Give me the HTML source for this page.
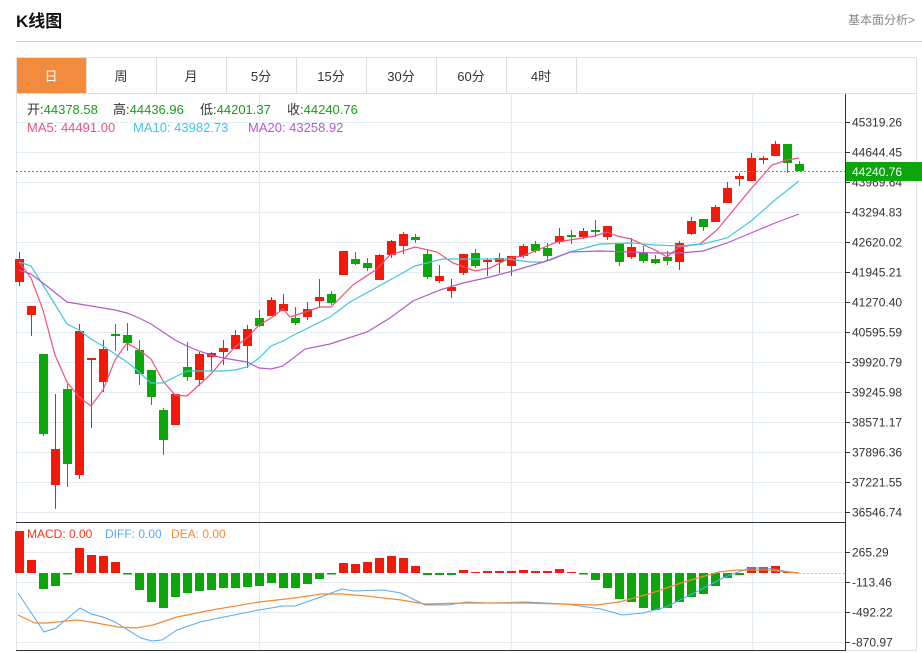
<!DOCTYPE html>
<html><head><meta charset="utf-8"><style>
body{margin:0;background:#fff;width:922px;height:653px;overflow:hidden;font-family:"Liberation Sans","Noto Sans CJK SC",sans-serif;}
svg{position:absolute;left:0;top:0}
</style></head><body>
<svg id="s" width="922" height="653" xmlns="http://www.w3.org/2000/svg" font-family="Liberation Sans, Noto Sans CJK SC, sans-serif">
<text x="16" y="27" font-size="17" font-weight="bold" fill="#111">K线图</text>
<text x="848" y="24" font-size="12" fill="#888">基本面分析&gt;</text>
<line x1="16" y1="41.5" x2="922" y2="41.5" stroke="#ccc"/>
<g id="tabs"></g>
<g id="g"></g>
</svg>
<script>
var NS="http://www.w3.org/2000/svg",G=document.getElementById('g');
function el(t,a,p,txt){var e=document.createElementNS(NS,t);for(var k in a)e.setAttribute(k,a[k]);if(txt!=null)e.textContent=txt;(p||G).appendChild(e);return e;}
var T=document.getElementById('tabs');
var tabs=["日","周","月","5分","15分","30分","60分","4时"];
el('rect',{x:16.5,y:57.5,width:900,height:593,fill:'none',stroke:'#dde3ea'},T);
tabs.forEach(function(t,i){var x=16+i*70;
 if(i==0)el('rect',{x:x+1,y:58,width:69,height:35,fill:'#f28b3d'},T);
 el('line',{x1:x+70.5,y1:58,x2:x+70.5,y2:93,stroke:'#ddd'},T);
 el('text',{x:x+35,y:81,'font-size':13,'text-anchor':'middle',fill:i==0?'#fff':'#333'},T,t);});
el('line',{x1:16,y1:93.5,x2:917,y2:93.5,stroke:'#ddd'},T);
var labs=["45319.26","44644.45","43969.64","43294.83","42620.02","41945.21","41270.40","40595.59","39920.79","39245.98","38571.17","37896.36","37221.55","36546.74"];
labs.forEach(function(l,i){var y=122+30*i+.5;el('line',{x1:17,y1:y,x2:845,y2:y,stroke:'#e3ecf3'});el('line',{x1:845,y1:y,x2:850,y2:y,stroke:'#333'});el('text',{x:852,y:y+4,'font-size':12,fill:'#333'},null,l);});
["265.29","-113.46","-492.22","-870.97"].forEach(function(l,i){var y=552+30*i+.5;el('line',{x1:17,y1:y,x2:845,y2:y,stroke:'#e3ecf3'});el('line',{x1:845,y1:y,x2:850,y2:y,stroke:'#333'});el('text',{x:852,y:y+4,'font-size':12,fill:'#333'},null,l);});
[259.5,511.5,752.5].forEach(function(x){el('line',{x1:x,y1:94,x2:x,y2:651,stroke:'#e3ecf3'});});
el('line',{x1:845.5,y1:94,x2:845.5,y2:651,stroke:'#333'});
el('line',{x1:16,y1:522.5,x2:845,y2:522.5,stroke:'#333'});
el('line',{x1:16,y1:650.5,x2:845,y2:650.5,stroke:'#333'});
var C=[[259,282,252,286,1],[306,315,306,336,1],[354,434,354,436,0],[449,485,394,509,1],[389,464,384,487,0],[331,475,324,479,1],[358,360,358,428,1],[349,382,340,392,1],[334,336,324,351,0],[335,343,323,351,0],[350,374,340,385,0],[370,397,370,405,0],[410,440,408,455,0],[394,425,394,425,1],[367,377,342,381,0],[354,380,352,386,1],[353,357,352,371,1],[348,352,340,365,1],[335,349,330,349,1],[329,346,325,368,1],[318,326,310,327,0],[300,316,297,316,1],[304,311,294,311,1],[318,323,307,325,0],[309,317,302,320,1],[297,301,279,307,1],[294,303,291,305,0],[251,275,251,275,1],[259,264,252,265,0],[263,268,258,271,0],[255,280,254,280,1],[241,255,240,258,1],[234,246,232,254,1],[237,240,234,243,0],[254,277,250,279,0],[276,281,265,283,1],[287,291,279,298,1],[254,273,254,275,1],[253,266,249,268,0],[260,262,258,276,1],[258,262,253,273,1],[256,266,256,276,1],[246,256,244,258,1],[244,251,241,253,0],[248,256,243,260,0],[236,242,228,244,1],[235,237,230,244,0],[231,237,228,239,1],[230,232,220,237,0],[226,237,226,240,1],[244,262,244,266,0],[247,257,238,259,1],[253,261,246,263,0],[259,263,255,264,0],[257,261,251,265,0],[243,262,241,270,1],[221,234,217,235,1],[219,227,219,231,0],[207,222,205,222,1],[188,203,182,203,1],[176,179,173,186,1],[158,181,153,181,1],[158,160,156,164,1],[144,156,141,156,1],[144,163,144,173,0],[164,171,161,171,0]];
C.forEach(function(c,i){var x=19+12*i,col=c[4]?'#f21a0a':'#0aa60a';
 el('line',{x1:x+.5,y1:c[2],x2:x+.5,y2:c[3],stroke:col});
 el('rect',{x:x-4,y:c[0],width:9,height:Math.max(2,c[1]-c[0]),fill:col});});
function pl(pts,col,w){el('polyline',{points:pts.map(function(p){return p.join(',')}).join(' '),fill:'none',stroke:col,'stroke-width':w||1.2});}
pl([[19,262],[31,278],[43,310],[55,355],[67,382],[79,397],[91,406],[103,390],[115,360],[127,343],[139,350],[151,359],[163,381],[175,395],[187,396],[199,385],[211,374],[223,360],[235,347],[247,338],[259,325],[271,318],[283,309],[290,317],[320,307],[331,307],[353,285],[377,269],[390,255],[415,247],[437,252],[453,263],[475,271],[490,268],[510,258],[523,256],[557,242],[595,236],[607,232],[617,236],[631,239],[655,250],[667,257],[679,247],[700,244],[717,230],[750,190],[772,165],[787,160],[799,158]],'#f0507a');
pl([[19,262],[31,266],[43,285],[67,324],[79,330],[91,339],[103,346],[115,354],[127,362],[139,372],[151,383],[163,383],[175,377],[187,371],[199,371],[223,371],[235,370],[247,367],[259,358],[271,346],[283,341],[290,337],[330,317],[350,302],[390,280],[415,266],[443,259],[477,259],[507,259],[530,262],[543,262],[570,252],[600,244],[631,243],[655,245],[679,246],[703,244],[727,238],[751,221],[775,200],[799,181]],'#3fc8df');
pl([[19,270],[31,274],[43,283],[67,302],[91,306],[115,310],[127,313],[139,318],[151,324],[163,332],[175,340],[187,346],[199,351],[211,355],[223,358],[235,360],[247,362],[259,368],[271,369],[283,366],[305,349],[330,344],[367,332],[390,318],[413,301],[440,290],[463,283],[490,277],[513,271],[550,260],[570,252],[600,251],[631,252],[655,253],[679,253],[703,251],[727,243],[751,233],[775,223],[799,214]],'#b45bc8');
el('line',{x1:16,y1:171.5,x2:845,y2:171.5,stroke:'#2db82d','stroke-dasharray':'2,2'});
el('rect',{x:846,y:162,width:76,height:19,fill:'#0aa60a'});
el('text',{x:852,y:176,'font-size':12,fill:'#fff'},null,'44240.76');
var M=[531,560,589,586,574.5,548,555,556,562,574.5,590,602,608,597,593,591,590,588,588,587,586,583,588,588,584,579,574.5,563,564,562,558,556,558,566,575,575,575,570,572,571,571,571,570,571,571,569,572,574.5,580,588,599,602,608,610,608,602,597,594,586,578,575,567,567,566,572];
M.forEach(function(v,i){var x=19+12*i,up=v<573;el('rect',{x:x-4,y:Math.min(v,573),width:9,height:Math.max(1,Math.abs(v-573)),fill:up?'#f21a0a':'#0aa60a'});});
el('line',{x1:795,y1:573.5,x2:845,y2:573.5,stroke:'#9cd0ea','stroke-dasharray':'2,2'});
pl([[18,593],[44,632],[56,628],[80,608],[91,614],[103,617],[115,622],[141,638],[152,641],[162,640],[177,630],[200,622],[224,617],[259,610],[283,606],[295,606],[318,598],[342,589],[354,591],[383,590],[401,593],[425,605],[448,605],[466,602],[489,603],[525,602],[566,604],[601,609],[622,615],[643,613],[666,607],[696,592],[725,577],[749,568],[767,568],[790,572],[799,573]],'#5aa9f0',1);
pl([[18,615],[35,623],[47,623],[77,620],[91,622],[118,627],[136,628],[153,625],[177,617],[212,610],[259,602],[295,598],[321,594],[342,594],[366,596],[401,600],[425,604],[466,603],[525,603],[596,605],[619,602],[649,594],[684,582],[719,572],[737,570],[767,570],[799,573]],'#f58a2f',1.2);
function lg(y,fs,items){var t=el('text',{y:y,'font-size':fs});items.forEach(function(a){var o={fill:a[1]};if(a[2]!=null)o.x=a[2];el('tspan',o,t,a[0]);});}
lg(114,13,[["开:","#333",27],["44378.58","#1a9d1a"],["高:","#333",113],["44436.96","#1a9d1a"],["低:","#333",200],["44201.37","#1a9d1a"],["收:","#333",287],["44240.76","#1a9d1a"]]);
lg(132,13,[["MA5: 44491.00","#f0507a",27],["MA10: 43982.73","#3fc8df",133],["MA20: 43258.92","#b45bc8",248]]);
lg(538,12,[["MACD: 0.00","#f2361a",27],["DIFF: 0.00","#5aa9f0",105],["DEA: 0.00","#f58a2f",171]]);
</script>
</body></html>
